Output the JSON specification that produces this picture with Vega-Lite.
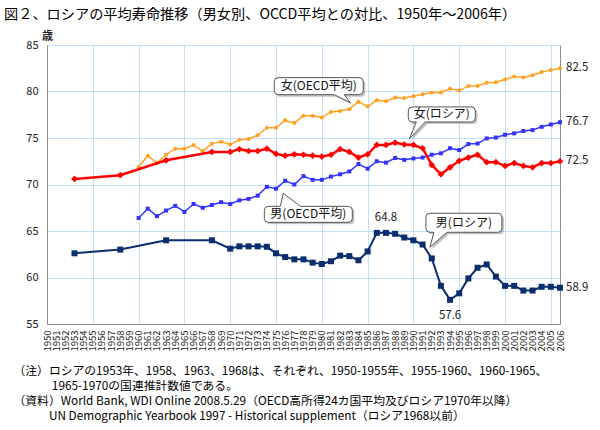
{
  "$schema": "https://vega.github.io/schema/vega-lite/v6.json",
  "autosize": "none",
  "width": 513,
  "height": 279,
  "padding": {"left": 47, "top": 45, "right": 40, "bottom": 106},
  "background": "white",
  "config": {
    "font": "Noto Sans CJK JP",
    "view": {"stroke": "#8c8c8c", "strokeWidth": 1},
    "axis": {"labelFont": "Noto Sans CJK JP", "titleFont": "Noto Sans CJK JP"}
  },
  "title": {
    "text": "図２、ロシアの平均寿命推移（男女別、OCCD平均との対比、1950年～2006年）",
    "anchor": "start",
    "frame": "group",
    "dx": -43,
    "offset": 8,
    "fontSize": 14.2,
    "fontWeight": "normal",
    "color": "#000"
  },
  "datasets": {
    "series": [
      {"s": "女OECD", "year": 1960, "v": 71.9}, {"s": "女OECD", "year": 1961, "v": 73.1}, {"s": "女OECD", "year": 1962, "v": 72.3}, {"s": "女OECD", "year": 1963, "v": 73.2}, {"s": "女OECD", "year": 1964, "v": 73.85}, {"s": "女OECD", "year": 1965, "v": 73.85}, {"s": "女OECD", "year": 1966, "v": 74.25}, {"s": "女OECD", "year": 1967, "v": 73.6}, {"s": "女OECD", "year": 1968, "v": 74.4}, {"s": "女OECD", "year": 1969, "v": 74.6}, {"s": "女OECD", "year": 1970, "v": 74.3}, {"s": "女OECD", "year": 1971, "v": 74.8}, {"s": "女OECD", "year": 1972, "v": 74.9}, {"s": "女OECD", "year": 1973, "v": 75.3}, {"s": "女OECD", "year": 1974, "v": 76.1}, {"s": "女OECD", "year": 1975, "v": 76.1}, {"s": "女OECD", "year": 1976, "v": 76.9}, {"s": "女OECD", "year": 1977, "v": 76.6}, {"s": "女OECD", "year": 1978, "v": 77.4}, {"s": "女OECD", "year": 1979, "v": 77.4}, {"s": "女OECD", "year": 1980, "v": 77.2}, {"s": "女OECD", "year": 1981, "v": 77.8}, {"s": "女OECD", "year": 1982, "v": 77.9}, {"s": "女OECD", "year": 1983, "v": 78.1}, {"s": "女OECD", "year": 1984, "v": 78.9}, {"s": "女OECD", "year": 1985, "v": 78.4}, {"s": "女OECD", "year": 1986, "v": 79.05}, {"s": "女OECD", "year": 1987, "v": 78.95}, {"s": "女OECD", "year": 1988, "v": 79.35}, {"s": "女OECD", "year": 1989, "v": 79.3}, {"s": "女OECD", "year": 1990, "v": 79.5}, {"s": "女OECD", "year": 1991, "v": 79.7}, {"s": "女OECD", "year": 1992, "v": 79.9}, {"s": "女OECD", "year": 1993, "v": 79.9}, {"s": "女OECD", "year": 1994, "v": 80.3}, {"s": "女OECD", "year": 1995, "v": 80.1}, {"s": "女OECD", "year": 1996, "v": 80.6}, {"s": "女OECD", "year": 1997, "v": 80.6}, {"s": "女OECD", "year": 1998, "v": 80.95}, {"s": "女OECD", "year": 1999, "v": 81.0}, {"s": "女OECD", "year": 2000, "v": 81.3}, {"s": "女OECD", "year": 2001, "v": 81.6}, {"s": "女OECD", "year": 2002, "v": 81.5}, {"s": "女OECD", "year": 2003, "v": 81.75}, {"s": "女OECD", "year": 2004, "v": 82.1}, {"s": "女OECD", "year": 2005, "v": 82.3}, {"s": "女OECD", "year": 2006, "v": 82.5},
      {"s": "男OECD", "year": 1960, "v": 66.4}, {"s": "男OECD", "year": 1961, "v": 67.4}, {"s": "男OECD", "year": 1962, "v": 66.6}, {"s": "男OECD", "year": 1963, "v": 67.2}, {"s": "男OECD", "year": 1964, "v": 67.7}, {"s": "男OECD", "year": 1965, "v": 67.05}, {"s": "男OECD", "year": 1966, "v": 67.9}, {"s": "男OECD", "year": 1967, "v": 67.5}, {"s": "男OECD", "year": 1968, "v": 67.8}, {"s": "男OECD", "year": 1969, "v": 68.1}, {"s": "男OECD", "year": 1970, "v": 67.9}, {"s": "男OECD", "year": 1971, "v": 68.3}, {"s": "男OECD", "year": 1972, "v": 68.45}, {"s": "男OECD", "year": 1973, "v": 68.8}, {"s": "男OECD", "year": 1974, "v": 69.75}, {"s": "男OECD", "year": 1975, "v": 69.55}, {"s": "男OECD", "year": 1976, "v": 70.4}, {"s": "男OECD", "year": 1977, "v": 70.0}, {"s": "男OECD", "year": 1978, "v": 70.9}, {"s": "男OECD", "year": 1979, "v": 70.5}, {"s": "男OECD", "year": 1980, "v": 70.5}, {"s": "男OECD", "year": 1981, "v": 70.85}, {"s": "男OECD", "year": 1982, "v": 71.1}, {"s": "男OECD", "year": 1983, "v": 71.4}, {"s": "男OECD", "year": 1984, "v": 72.2}, {"s": "男OECD", "year": 1985, "v": 71.7}, {"s": "男OECD", "year": 1986, "v": 72.5}, {"s": "男OECD", "year": 1987, "v": 72.35}, {"s": "男OECD", "year": 1988, "v": 72.85}, {"s": "男OECD", "year": 1989, "v": 72.65}, {"s": "男OECD", "year": 1990, "v": 72.8}, {"s": "男OECD", "year": 1991, "v": 72.9}, {"s": "男OECD", "year": 1992, "v": 73.2}, {"s": "男OECD", "year": 1993, "v": 73.35}, {"s": "男OECD", "year": 1994, "v": 73.9}, {"s": "男OECD", "year": 1995, "v": 73.7}, {"s": "男OECD", "year": 1996, "v": 74.35}, {"s": "男OECD", "year": 1997, "v": 74.4}, {"s": "男OECD", "year": 1998, "v": 74.95}, {"s": "男OECD", "year": 1999, "v": 75.05}, {"s": "男OECD", "year": 2000, "v": 75.35}, {"s": "男OECD", "year": 2001, "v": 75.5}, {"s": "男OECD", "year": 2002, "v": 75.75}, {"s": "男OECD", "year": 2003, "v": 75.85}, {"s": "男OECD", "year": 2004, "v": 76.2}, {"s": "男OECD", "year": 2005, "v": 76.45}, {"s": "男OECD", "year": 2006, "v": 76.7},
      {"s": "女RU", "year": 1953, "v": 70.6}, {"s": "女RU", "year": 1958, "v": 71.0}, {"s": "女RU", "year": 1963, "v": 72.6}, {"s": "女RU", "year": 1968, "v": 73.5}, {"s": "女RU", "year": 1970, "v": 73.5}, {"s": "女RU", "year": 1971, "v": 73.8}, {"s": "女RU", "year": 1972, "v": 73.6}, {"s": "女RU", "year": 1973, "v": 73.6}, {"s": "女RU", "year": 1974, "v": 73.85}, {"s": "女RU", "year": 1975, "v": 73.3}, {"s": "女RU", "year": 1976, "v": 73.1}, {"s": "女RU", "year": 1977, "v": 73.25}, {"s": "女RU", "year": 1978, "v": 73.2}, {"s": "女RU", "year": 1979, "v": 73.1}, {"s": "女RU", "year": 1980, "v": 73.0}, {"s": "女RU", "year": 1981, "v": 73.2}, {"s": "女RU", "year": 1982, "v": 73.8}, {"s": "女RU", "year": 1983, "v": 73.5}, {"s": "女RU", "year": 1984, "v": 72.9}, {"s": "女RU", "year": 1985, "v": 73.25}, {"s": "女RU", "year": 1986, "v": 74.25}, {"s": "女RU", "year": 1987, "v": 74.25}, {"s": "女RU", "year": 1988, "v": 74.5}, {"s": "女RU", "year": 1989, "v": 74.3}, {"s": "女RU", "year": 1990, "v": 74.25}, {"s": "女RU", "year": 1991, "v": 73.9}, {"s": "女RU", "year": 1992, "v": 72.1}, {"s": "女RU", "year": 1993, "v": 71.1}, {"s": "女RU", "year": 1994, "v": 71.85}, {"s": "女RU", "year": 1995, "v": 72.55}, {"s": "女RU", "year": 1996, "v": 72.9}, {"s": "女RU", "year": 1997, "v": 73.2}, {"s": "女RU", "year": 1998, "v": 72.4}, {"s": "女RU", "year": 1999, "v": 72.4}, {"s": "女RU", "year": 2000, "v": 72.0}, {"s": "女RU", "year": 2001, "v": 72.3}, {"s": "女RU", "year": 2002, "v": 72.0}, {"s": "女RU", "year": 2003, "v": 71.85}, {"s": "女RU", "year": 2004, "v": 72.3}, {"s": "女RU", "year": 2005, "v": 72.3}, {"s": "女RU", "year": 2006, "v": 72.5},
      {"s": "男RU", "year": 1953, "v": 62.6}, {"s": "男RU", "year": 1958, "v": 63.0}, {"s": "男RU", "year": 1963, "v": 64.0}, {"s": "男RU", "year": 1968, "v": 64.0}, {"s": "男RU", "year": 1970, "v": 63.1}, {"s": "男RU", "year": 1971, "v": 63.35}, {"s": "男RU", "year": 1972, "v": 63.35}, {"s": "男RU", "year": 1973, "v": 63.35}, {"s": "男RU", "year": 1974, "v": 63.3}, {"s": "男RU", "year": 1975, "v": 62.6}, {"s": "男RU", "year": 1976, "v": 62.2}, {"s": "男RU", "year": 1977, "v": 61.95}, {"s": "男RU", "year": 1978, "v": 61.95}, {"s": "男RU", "year": 1979, "v": 61.6}, {"s": "男RU", "year": 1980, "v": 61.45}, {"s": "男RU", "year": 1981, "v": 61.75}, {"s": "男RU", "year": 1982, "v": 62.35}, {"s": "男RU", "year": 1983, "v": 62.3}, {"s": "男RU", "year": 1984, "v": 61.85}, {"s": "男RU", "year": 1985, "v": 62.8}, {"s": "男RU", "year": 1986, "v": 64.8}, {"s": "男RU", "year": 1987, "v": 64.8}, {"s": "男RU", "year": 1988, "v": 64.7}, {"s": "男RU", "year": 1989, "v": 64.3}, {"s": "男RU", "year": 1990, "v": 64.0}, {"s": "男RU", "year": 1991, "v": 63.55}, {"s": "男RU", "year": 1992, "v": 62.05}, {"s": "男RU", "year": 1993, "v": 59.1}, {"s": "男RU", "year": 1994, "v": 57.6}, {"s": "男RU", "year": 1995, "v": 58.3}, {"s": "男RU", "year": 1996, "v": 59.9}, {"s": "男RU", "year": 1997, "v": 61.05}, {"s": "男RU", "year": 1998, "v": 61.4}, {"s": "男RU", "year": 1999, "v": 60.1}, {"s": "男RU", "year": 2000, "v": 59.1}, {"s": "男RU", "year": 2001, "v": 59.1}, {"s": "男RU", "year": 2002, "v": 58.6}, {"s": "男RU", "year": 2003, "v": 58.6}, {"s": "男RU", "year": 2004, "v": 59.0}, {"s": "男RU", "year": 2005, "v": 59.0}, {"s": "男RU", "year": 2006, "v": 58.9}
    ],
    "values": [
      {"kind": "end", "year": 2006, "v": 82.5, "t": "82.5"},
      {"kind": "end", "year": 2006, "v": 76.7, "t": "76.7"},
      {"kind": "end", "year": 2006, "v": 72.5, "t": "72.5"},
      {"kind": "end", "year": 2006, "v": 58.9, "t": "58.9"},
      {"kind": "max", "year": 1987, "v": 64.8, "t": "64.8"},
      {"kind": "min", "year": 1994, "v": 57.6, "t": "57.6"}
    ],
    "callouts": [
      {"id": "c1", "year": 1983.1, "v": 78.8, "t": "女(OECD平均)"},
      {"id": "c2", "year": 1989.55, "v": 74.9, "t": "女(ロシア)"},
      {"id": "c3", "year": 1975.8, "v": 69.05, "t": "男(OECD平均)"},
      {"id": "c4", "year": 1991.8, "v": 63.25, "t": "男(ロシア)"}
    ]
  },
  "encoding": {
    "x": {
      "field": "year", "type": "quantitative",
      "scale": {"domain": [1950, 2006], "nice": false, "zero": false},
      "axis": {
        "values": [1950,1951,1952,1953,1954,1955,1956,1957,1958,1959,1960,1961,1962,1963,1964,1965,1966,1967,1968,1969,1970,1971,1972,1973,1974,1975,1976,1977,1978,1979,1980,1981,1982,1983,1984,1985,1986,1987,1988,1989,1990,1991,1992,1993,1994,1995,1996,1997,1998,1999,2000,2001,2002,2003,2004,2005,2006],
        "format": "d",
        "labelAngle": 270,
        "labelAlign": "right",
        "labelBaseline": "middle",
        "labelFontSize": 9.5,
        "labelColor": "#222",
        "labelOverlap": false,
        "labelFlush": false,
        "labelBound": false,
        "labelPadding": 6,
        "ticks": false,
        "domainColor": "#8c8c8c",
        "grid": true,
        "gridColor": "#BFDFFF",
        "gridWidth": 1,
        "gridOpacity": {"condition": {"test": "datum.value % 5 === 0 && datum.value > 1950", "value": 1}, "value": 0},
        "title": [
          "（注）ロシアの1953年、1958、1963、1968は、それぞれ、1950-1955年、1955-1960、1960-1965、",
          "\u200B\u2003\u2003\u2003\u20051965-1970の国連推計数値である。",
          "（資料）World Bank, WDI Online 2008.5.29（OECD高所得24カ国平均及びロシア1970年以降）",
          "\u200B\u3000\u3000\u3000UN Demographic Yearbook 1997 - Historical supplement（ロシア1968以前）"
        ],
        "titleAnchor": "start",
        "titleAlign": "left",
        "titleBaseline": "top",
        "titleX": -34,
        "titleY": 41,
        "titleFontSize": 11.8,
        "titleFontWeight": "normal",
        "titleColor": "#000",
        "titleLineHeight": 15
      }
    },
    "y": {
      "field": "v", "type": "quantitative",
      "scale": {"domain": [55, 85], "nice": false, "zero": false},
      "axis": {
        "values": [55, 60, 65, 70, 75, 80, 85],
        "labelFontSize": 11,
        "labelColor": "#222",
        "labelPadding": 9,
        "ticks": false,
        "domainColor": "#8c8c8c",
        "grid": true,
        "gridColor": "#BFDFFF",
        "gridWidth": 1,
        "title": "歳",
        "titleAngle": 0,
        "titleX": 0,
        "titleY": -9,
        "titleAlign": "center",
        "titleBaseline": "middle",
        "titleFontSize": 11,
        "titleFontWeight": "bold",
        "titleColor": "#222"
      }
    }
  },
  "layer": [
    {
      "data": {"name": "series"},
      "transform": [{"filter": "datum.s === '女OECD'"}],
      "mark": {"type": "line", "color": "#FFA020", "strokeWidth": 1.5, "point": {"filled": true, "color": "#FFA020", "shape": "circle", "size": 16}}
    },
    {
      "data": {"name": "series"},
      "transform": [{"filter": "datum.s === '男OECD'"}],
      "mark": {"type": "line", "color": "#3333FF", "strokeWidth": 1.5, "point": {"filled": true, "color": "#3333FF", "shape": "square", "size": 16}}
    },
    {
      "data": {"name": "series"},
      "transform": [{"filter": "datum.s === '女RU'"}],
      "mark": {"type": "line", "color": "#FF0000", "strokeWidth": 2.5, "point": {"filled": true, "color": "#FF0000", "shape": "diamond", "size": 45}}
    },
    {
      "data": {"name": "series"},
      "transform": [{"filter": "datum.s === '男RU'"}],
      "mark": {"type": "line", "color": "#0A2D6E", "strokeWidth": 2, "point": {"filled": true, "color": "#0A2D6E", "shape": "square", "size": 36}}
    },
    {
      "data": {"name": "values"},
      "transform": [{"filter": "datum.kind === 'end'"}],
      "mark": {"type": "text", "align": "left", "baseline": "middle", "dx": 6, "fontSize": 11.5, "color": "#222"},
      "encoding": {"text": {"field": "t"}}
    },
    {
      "data": {"name": "values"},
      "transform": [{"filter": "datum.kind === 'max'"}],
      "mark": {"type": "text", "align": "center", "baseline": "middle", "dy": -15, "fontSize": 11.5, "color": "#222"},
      "encoding": {"text": {"field": "t"}}
    },
    {
      "data": {"name": "values"},
      "transform": [{"filter": "datum.kind === 'min'"}],
      "mark": {"type": "text", "align": "center", "baseline": "middle", "dy": 16, "fontSize": 11.5, "color": "#222"},
      "encoding": {"text": {"field": "t"}}
    },
    {
      "data": {"name": "callouts"},
      "transform": [{"filter": "datum.id === 'c1'"}],
      "layer": [
        {"mark": {"type": "point", "shape": "M -72 -25 L 9 -25 Q 13 -25 13 -21 L 13 -12 Q 13 -8 9 -8 L -6 -8 L 0 0 L -16 -8 L -72 -8 Q -76 -8 -76 -12 L -76 -21 Q -76 -25 -72 -25 Z", "size": 4, "filled": true, "fill": "#999", "fillOpacity": 0.6, "strokeWidth": 0, "xOffset": 2, "yOffset": 2}},
        {"mark": {"type": "point", "shape": "M -72 -25 L 9 -25 Q 13 -25 13 -21 L 13 -12 Q 13 -8 9 -8 L -6 -8 L 0 0 L -16 -8 L -72 -8 Q -76 -8 -76 -12 L -76 -21 Q -76 -25 -72 -25 Z", "size": 4, "filled": true, "fill": "white", "fillOpacity": 1, "stroke": "#555", "strokeWidth": 1, "opacity": 1}},
        {"mark": {"type": "text", "dx": -31.5, "dy": -16.5, "align": "center", "baseline": "middle", "fontSize": 12, "color": "#111"}, "encoding": {"text": {"field": "t"}}}
      ]
    },
    {
      "data": {"name": "callouts"},
      "transform": [{"filter": "datum.id === 'c2'"}],
      "layer": [
        {"mark": {"type": "point", "shape": "M 3 -32 L 62 -32 Q 66 -32 66 -28 L 66 -21 Q 66 -17 62 -17 L 16 -17 L 0 0 L 7 -17 L 3 -17 Q -1 -17 -1 -21 L -1 -28 Q -1 -32 3 -32 Z", "size": 4, "filled": true, "fill": "#999", "fillOpacity": 0.6, "strokeWidth": 0, "xOffset": 2, "yOffset": 2}},
        {"mark": {"type": "point", "shape": "M 3 -32 L 62 -32 Q 66 -32 66 -28 L 66 -21 Q 66 -17 62 -17 L 16 -17 L 0 0 L 7 -17 L 3 -17 Q -1 -17 -1 -21 L -1 -28 Q -1 -32 3 -32 Z", "size": 4, "filled": true, "fill": "white", "fillOpacity": 1, "stroke": "#555", "strokeWidth": 1, "opacity": 1}},
        {"mark": {"type": "text", "dx": 32.5, "dy": -24.5, "align": "center", "baseline": "middle", "fontSize": 12, "color": "#111"}, "encoding": {"text": {"field": "t"}}}
      ]
    },
    {
      "data": {"name": "callouts"},
      "transform": [{"filter": "datum.id === 'c3'"}],
      "layer": [
        {"mark": {"type": "point", "shape": "M -15 13 L -3 13 L 0 0 L 17 13 L 65 13 Q 69 13 69 17 L 69 25 Q 69 29 65 29 L -15 29 Q -19 29 -19 25 L -19 17 Q -19 13 -15 13 Z", "size": 4, "filled": true, "fill": "#999", "fillOpacity": 0.6, "strokeWidth": 0, "xOffset": 2, "yOffset": 2}},
        {"mark": {"type": "point", "shape": "M -15 13 L -3 13 L 0 0 L 17 13 L 65 13 Q 69 13 69 17 L 69 25 Q 69 29 65 29 L -15 29 Q -19 29 -19 25 L -19 17 Q -19 13 -15 13 Z", "size": 4, "filled": true, "fill": "white", "fillOpacity": 1, "stroke": "#555", "strokeWidth": 1, "opacity": 1}},
        {"mark": {"type": "text", "dx": 25, "dy": 21, "align": "center", "baseline": "middle", "fontSize": 12, "color": "#111"}, "encoding": {"text": {"field": "t"}}}
      ]
    },
    {
      "data": {"name": "callouts"},
      "transform": [{"filter": "datum.id === 'c4'"}],
      "layer": [
        {"mark": {"type": "point", "shape": "M 0 -34 L 68 -34 Q 72 -34 72 -30 L 72 -19 Q 72 -15 68 -15 L 17 -15 L 0 0 L 4 -15 L 0 -15 Q -4 -15 -4 -19 L -4 -30 Q -4 -34 0 -34 Z", "size": 4, "filled": true, "fill": "#999", "fillOpacity": 0.6, "strokeWidth": 0, "xOffset": 2, "yOffset": 2}},
        {"mark": {"type": "point", "shape": "M 0 -34 L 68 -34 Q 72 -34 72 -30 L 72 -19 Q 72 -15 68 -15 L 17 -15 L 0 0 L 4 -15 L 0 -15 Q -4 -15 -4 -19 L -4 -30 Q -4 -34 0 -34 Z", "size": 4, "filled": true, "fill": "white", "fillOpacity": 1, "stroke": "#555", "strokeWidth": 1, "opacity": 1}},
        {"mark": {"type": "text", "dx": 34, "dy": -24.5, "align": "center", "baseline": "middle", "fontSize": 12, "color": "#111"}, "encoding": {"text": {"field": "t"}}}
      ]
    }
  ]
}
